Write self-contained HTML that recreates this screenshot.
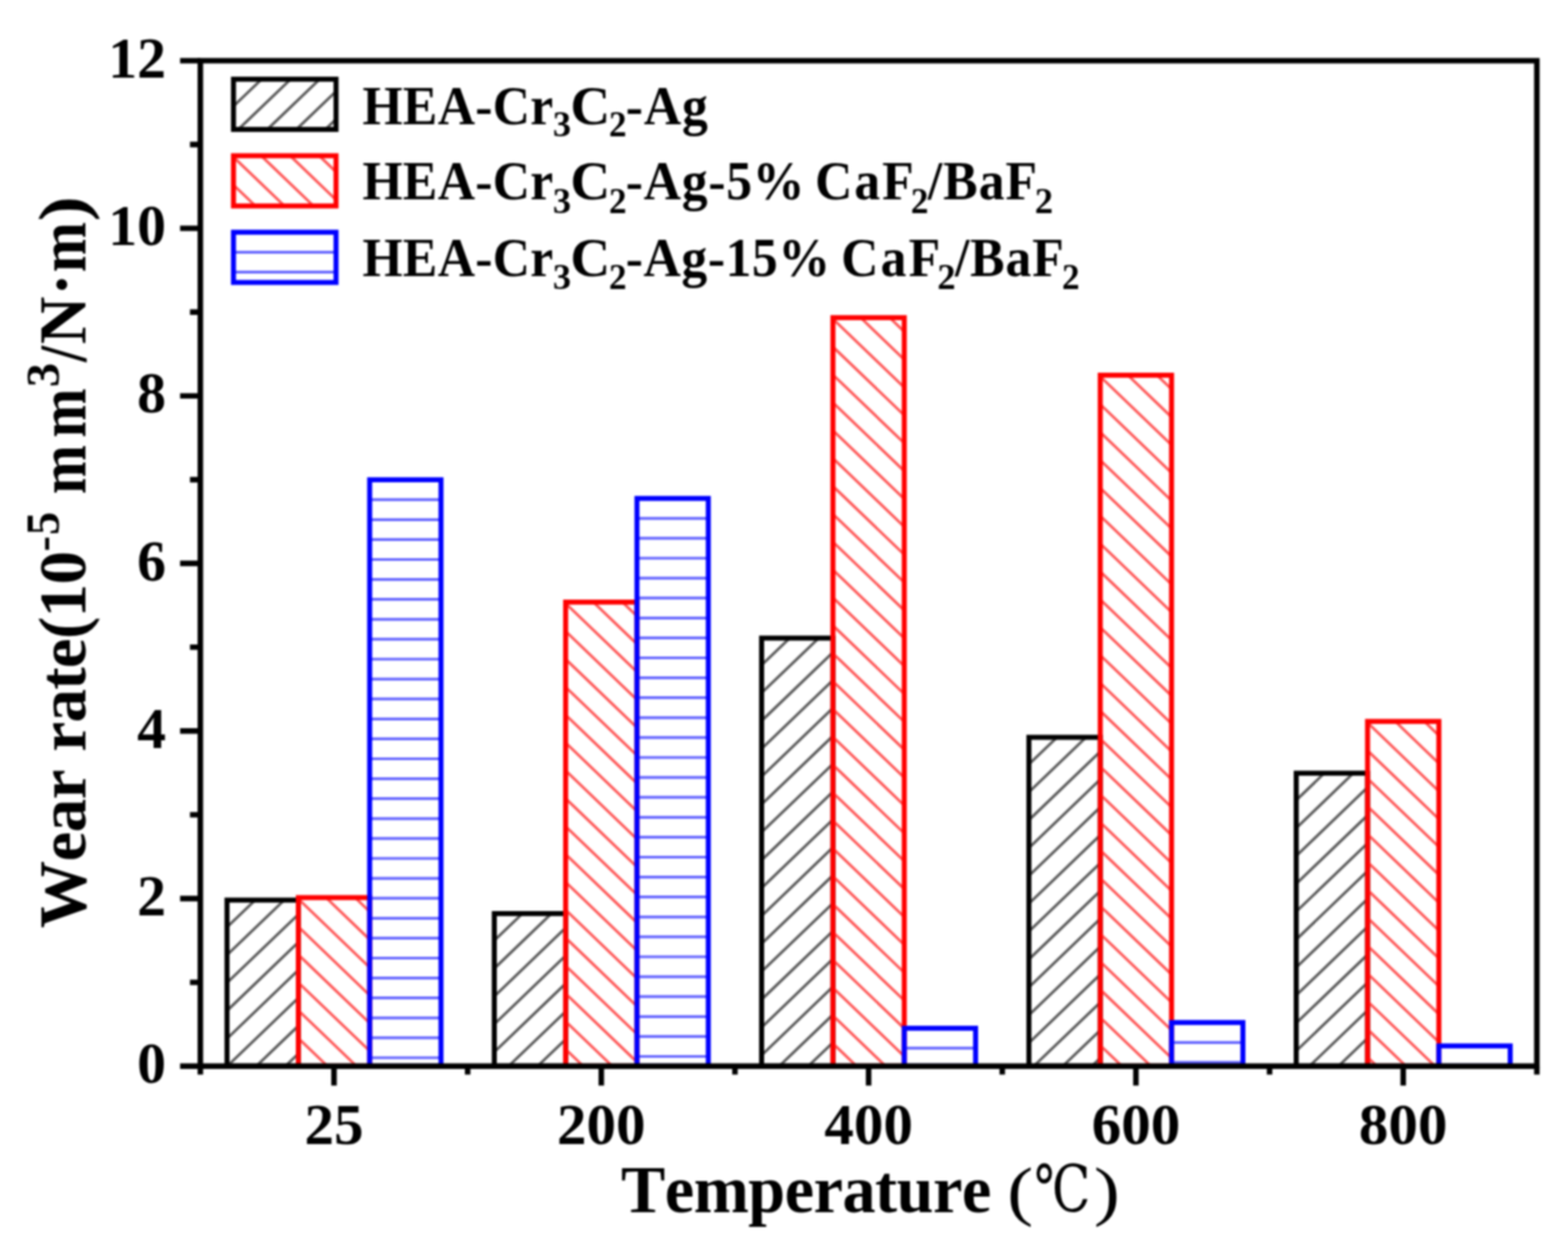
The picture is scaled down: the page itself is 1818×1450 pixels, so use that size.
<!DOCTYPE html>
<html><head><meta charset="utf-8"><title>Wear rate chart</title>
<style>
html,body{margin:0;padding:0;background:#fff;}
body{width:1818px;height:1450px;overflow:hidden;}
svg{display:block;}
#c{width:1818px;height:1450px;filter:blur(0.8px);}
text{font-family:"Liberation Serif","Times New Roman",serif;font-weight:bold;fill:#000;font-kerning:none;}
.t{font-size:67px;}
.tx{font-size:68.5px;}
.leg{font-size:60px;}
.leg .sub{font-size:43px;}
.xt{font-size:77px;}
.par{font-weight:normal;}
.deg{font-family:"DejaVu Serif","Noto Serif CJK SC",serif;font-weight:normal;font-size:75px;}
.yt{font-size:78px;}
.sup{font-size:54px;}
</style></head>
<body><div id="c"><svg width="1818" height="1450" viewBox="0 0 1818 1450">
<rect width="1818" height="1450" fill="#fff"/>
<path d="M263.21 1074.6L295.81 1043.3M263.21 1106.9L329.46 1043.3M263.21 1139.2L345.91 1059.81M263.21 1171.5L345.91 1092.11M263.21 1203.8L345.91 1124.41M263.63 1235.7L345.91 1156.71M297.27 1235.7L345.91 1189.01M330.92 1235.7L345.91 1221.31" stroke="#5c5c5c" stroke-width="3.2" fill="none"/>
<rect x="263.21" y="1043.3" width="82.7" height="192.4" fill="none" stroke="#000000" stroke-width="5.8"/>
<path d="M411.64 1040.4L428.61 1056.69M377.99 1040.4L428.61 1088.99M345.91 1041.9L428.61 1121.29M345.91 1074.2L428.61 1153.59M345.91 1106.5L428.61 1185.89M345.91 1138.8L428.61 1218.19M345.91 1171.1L413.2 1235.7M345.91 1203.4L379.56 1235.7" stroke="#ff5a5a" stroke-width="3.2" fill="none"/>
<rect x="345.91" y="1040.4" width="82.7" height="195.3" fill="none" stroke="#ff0000" stroke-width="5.8"/>
<path d="M428.61 579.2L511.31 579.2M428.61 602.3L511.31 602.3M428.61 625.4L511.31 625.4M428.61 648.5L511.31 648.5M428.61 671.6L511.31 671.6M428.61 694.7L511.31 694.7M428.61 717.8L511.31 717.8M428.61 740.9L511.31 740.9M428.61 764L511.31 764M428.61 787.1L511.31 787.1M428.61 810.2L511.31 810.2M428.61 833.3L511.31 833.3M428.61 856.4L511.31 856.4M428.61 879.5L511.31 879.5M428.61 902.6L511.31 902.6M428.61 925.7L511.31 925.7M428.61 948.8L511.31 948.8M428.61 971.9L511.31 971.9M428.61 995L511.31 995M428.61 1018.1L511.31 1018.1M428.61 1041.2L511.31 1041.2M428.61 1064.3L511.31 1064.3M428.61 1087.4L511.31 1087.4M428.61 1110.5L511.31 1110.5M428.61 1133.6L511.31 1133.6M428.61 1156.7L511.31 1156.7M428.61 1179.8L511.31 1179.8M428.61 1202.9L511.31 1202.9M428.61 1226L511.31 1226" stroke="#6262ff" stroke-width="3.2" fill="none"/>
<rect x="428.61" y="556.1" width="82.7" height="679.6" fill="none" stroke="#0000ff" stroke-width="5.8"/>
<path d="M573.13 1090.2L605.73 1058.9M573.13 1122.5L639.38 1058.9M573.13 1154.8L655.83 1075.41M573.13 1187.1L655.83 1107.71M573.13 1219.4L655.83 1140.01M589.8 1235.7L655.83 1172.31M623.44 1235.7L655.83 1204.61" stroke="#5c5c5c" stroke-width="3.2" fill="none"/>
<rect x="573.13" y="1058.9" width="82.7" height="176.8" fill="none" stroke="#000000" stroke-width="5.8"/>
<path d="M721.56 697.9L738.53 714.19M687.91 697.9L738.53 746.49M655.83 699.4L738.53 778.79M655.83 731.7L738.53 811.09M655.83 764L738.53 843.39M655.83 796.3L738.53 875.69M655.83 828.6L738.53 907.99M655.83 860.9L738.53 940.29M655.83 893.2L738.53 972.59M655.83 925.5L738.53 1004.89M655.83 957.8L738.53 1037.19M655.83 990.1L738.53 1069.49M655.83 1022.4L738.53 1101.79M655.83 1054.7L738.53 1134.09M655.83 1087L738.53 1166.39M655.83 1119.3L738.53 1198.69M655.83 1151.6L738.53 1230.99M655.83 1183.9L709.79 1235.7M655.83 1216.2L676.14 1235.7" stroke="#ff5a5a" stroke-width="3.2" fill="none"/>
<rect x="655.83" y="697.9" width="82.7" height="537.8" fill="none" stroke="#ff0000" stroke-width="5.8"/>
<path d="M738.53 600.8L821.23 600.8M738.53 623.9L821.23 623.9M738.53 647L821.23 647M738.53 670.1L821.23 670.1M738.53 693.2L821.23 693.2M738.53 716.3L821.23 716.3M738.53 739.4L821.23 739.4M738.53 762.5L821.23 762.5M738.53 785.6L821.23 785.6M738.53 808.7L821.23 808.7M738.53 831.8L821.23 831.8M738.53 854.9L821.23 854.9M738.53 878L821.23 878M738.53 901.1L821.23 901.1M738.53 924.2L821.23 924.2M738.53 947.3L821.23 947.3M738.53 970.4L821.23 970.4M738.53 993.5L821.23 993.5M738.53 1016.6L821.23 1016.6M738.53 1039.7L821.23 1039.7M738.53 1062.8L821.23 1062.8M738.53 1085.9L821.23 1085.9M738.53 1109L821.23 1109M738.53 1132.1L821.23 1132.1M738.53 1155.2L821.23 1155.2M738.53 1178.3L821.23 1178.3M738.53 1201.4L821.23 1201.4M738.53 1224.5L821.23 1224.5" stroke="#6262ff" stroke-width="3.2" fill="none"/>
<rect x="738.53" y="577.7" width="82.7" height="658" fill="none" stroke="#0000ff" stroke-width="5.8"/>
<path d="M883.05 770.9L915.65 739.6M883.05 803.2L949.3 739.6M883.05 835.5L965.75 756.11M883.05 867.8L965.75 788.41M883.05 900.1L965.75 820.71M883.05 932.4L965.75 853.01M883.05 964.7L965.75 885.31M883.05 997L965.75 917.61M883.05 1029.3L965.75 949.91M883.05 1061.6L965.75 982.21M883.05 1093.9L965.75 1014.51M883.05 1126.2L965.75 1046.81M883.05 1158.5L965.75 1079.11M883.05 1190.8L965.75 1111.41M883.05 1223.1L965.75 1143.71M903.57 1235.7L965.75 1176.01M937.22 1235.7L965.75 1208.31" stroke="#5c5c5c" stroke-width="3.2" fill="none"/>
<rect x="883.05" y="739.6" width="82.7" height="496.1" fill="none" stroke="#000000" stroke-width="5.8"/>
<path d="M1031.48 368.2L1048.45 384.49M997.83 368.2L1048.45 416.79M965.75 369.7L1048.45 449.09M965.75 402L1048.45 481.39M965.75 434.3L1048.45 513.69M965.75 466.6L1048.45 545.99M965.75 498.9L1048.45 578.29M965.75 531.2L1048.45 610.59M965.75 563.5L1048.45 642.89M965.75 595.8L1048.45 675.19M965.75 628.1L1048.45 707.49M965.75 660.4L1048.45 739.79M965.75 692.7L1048.45 772.09M965.75 725L1048.45 804.39M965.75 757.3L1048.45 836.69M965.75 789.6L1048.45 868.99M965.75 821.9L1048.45 901.29M965.75 854.2L1048.45 933.59M965.75 886.5L1048.45 965.89M965.75 918.8L1048.45 998.19M965.75 951.1L1048.45 1030.49M965.75 983.4L1048.45 1062.79M965.75 1015.7L1048.45 1095.09M965.75 1048L1048.45 1127.39M965.75 1080.3L1048.45 1159.69M965.75 1112.6L1048.45 1191.99M965.75 1144.9L1048.45 1224.29M965.75 1177.2L1026.69 1235.7M965.75 1209.5L993.04 1235.7" stroke="#ff5a5a" stroke-width="3.2" fill="none"/>
<rect x="965.75" y="368.2" width="82.7" height="867.5" fill="none" stroke="#ff0000" stroke-width="5.8"/>
<path d="M1048.45 1214.9L1131.15 1214.9" stroke="#6262ff" stroke-width="3.2" fill="none"/>
<rect x="1048.45" y="1191.8" width="82.7" height="43.9" fill="none" stroke="#0000ff" stroke-width="5.8"/>
<path d="M1192.97 885.9L1225.57 854.6M1192.97 918.2L1259.22 854.6M1192.97 950.5L1275.67 871.11M1192.97 982.8L1275.67 903.41M1192.97 1015.1L1275.67 935.71M1192.97 1047.4L1275.67 968.01M1192.97 1079.7L1275.67 1000.31M1192.97 1112L1275.67 1032.61M1192.97 1144.3L1275.67 1064.91M1192.97 1176.6L1275.67 1097.21M1192.97 1208.9L1275.67 1129.51M1198.7 1235.7L1275.67 1161.81M1232.35 1235.7L1275.67 1194.11M1265.99 1235.7L1275.67 1226.41" stroke="#5c5c5c" stroke-width="3.2" fill="none"/>
<rect x="1192.97" y="854.6" width="82.7" height="381.1" fill="none" stroke="#000000" stroke-width="5.8"/>
<path d="M1341.4 434.9L1358.37 451.19M1307.75 434.9L1358.37 483.49M1275.67 436.4L1358.37 515.79M1275.67 468.7L1358.37 548.09M1275.67 501L1358.37 580.39M1275.67 533.3L1358.37 612.69M1275.67 565.6L1358.37 644.99M1275.67 597.9L1358.37 677.29M1275.67 630.2L1358.37 709.59M1275.67 662.5L1358.37 741.89M1275.67 694.8L1358.37 774.19M1275.67 727.1L1358.37 806.49M1275.67 759.4L1358.37 838.79M1275.67 791.7L1358.37 871.09M1275.67 824L1358.37 903.39M1275.67 856.3L1358.37 935.69M1275.67 888.6L1358.37 967.99M1275.67 920.9L1358.37 1000.29M1275.67 953.2L1358.37 1032.59M1275.67 985.5L1358.37 1064.89M1275.67 1017.8L1358.37 1097.19M1275.67 1050.1L1358.37 1129.49M1275.67 1082.4L1358.37 1161.79M1275.67 1114.7L1358.37 1194.09M1275.67 1147L1358.37 1226.39M1275.67 1179.3L1334.42 1235.7M1275.67 1211.6L1300.77 1235.7" stroke="#ff5a5a" stroke-width="3.2" fill="none"/>
<rect x="1275.67" y="434.9" width="82.7" height="800.8" fill="none" stroke="#ff0000" stroke-width="5.8"/>
<path d="M1358.37 1208.3L1441.07 1208.3M1358.37 1231.4L1441.07 1231.4" stroke="#6262ff" stroke-width="3.2" fill="none"/>
<rect x="1358.37" y="1185.2" width="82.7" height="50.5" fill="none" stroke="#0000ff" stroke-width="5.8"/>
<path d="M1502.89 927.5L1535.49 896.2M1502.89 959.8L1569.14 896.2M1502.89 992.1L1585.59 912.71M1502.89 1024.4L1585.59 945.01M1502.89 1056.7L1585.59 977.31M1502.89 1089L1585.59 1009.61M1502.89 1121.3L1585.59 1041.91M1502.89 1153.6L1585.59 1074.21M1502.89 1185.9L1585.59 1106.51M1502.89 1218.2L1585.59 1138.81M1518.31 1235.7L1585.59 1171.11M1551.95 1235.7L1585.59 1203.41" stroke="#5c5c5c" stroke-width="3.2" fill="none"/>
<rect x="1502.89" y="896.2" width="82.7" height="339.5" fill="none" stroke="#000000" stroke-width="5.8"/>
<path d="M1651.32 836.2L1668.29 852.49M1617.67 836.2L1668.29 884.79M1585.59 837.7L1668.29 917.09M1585.59 870L1668.29 949.39M1585.59 902.3L1668.29 981.69M1585.59 934.6L1668.29 1013.99M1585.59 966.9L1668.29 1046.29M1585.59 999.2L1668.29 1078.59M1585.59 1031.5L1668.29 1110.89M1585.59 1063.8L1668.29 1143.19M1585.59 1096.1L1668.29 1175.49M1585.59 1128.4L1668.29 1207.79M1585.59 1160.7L1663.72 1235.7M1585.59 1193L1630.07 1235.7M1585.59 1225.3L1596.42 1235.7" stroke="#ff5a5a" stroke-width="3.2" fill="none"/>
<rect x="1585.59" y="836.2" width="82.7" height="399.5" fill="none" stroke="#ff0000" stroke-width="5.8"/>
<rect x="1668.29" y="1212.3" width="82.7" height="23.4" fill="none" stroke="#0000ff" stroke-width="5.8"/>
<path d="M270.7 123.1L303.3 91.8M276.32 150L336.95 91.8M309.97 150L370.6 91.8M343.62 150L389.6 105.86M377.26 150L389.6 138.16" stroke="#5c5c5c" stroke-width="3.2" fill="none"/>
<rect x="270.7" y="91.8" width="118.9" height="58.2" fill="none" stroke="#000000" stroke-width="5.8"/>
<path d="M370.07 180.5L389.6 199.24M336.43 180.5L389.6 231.54M302.78 180.5L363.41 238.7M270.7 182L329.76 238.7M270.7 214.3L296.12 238.7" stroke="#ff5a5a" stroke-width="3.2" fill="none"/>
<rect x="270.7" y="180.5" width="118.9" height="58.2" fill="none" stroke="#ff0000" stroke-width="5.8"/>
<path d="M270.7 292.3L389.6 292.3M270.7 315.4L389.6 315.4" stroke="#6262ff" stroke-width="3.2" fill="none"/>
<rect x="270.7" y="269.2" width="118.9" height="58.2" fill="none" stroke="#0000ff" stroke-width="5.8"/>
<path d="M232.3 70.4H1781.9V1235.7H232.3Z" fill="none" stroke="#000" stroke-width="6.4" stroke-linejoin="miter"/>
<path d="M208.8 1235.7H232.3M220.3 1138.59H232.3M208.8 1041.48H232.3M220.3 944.38H232.3M208.8 847.27H232.3M220.3 750.16H232.3M208.8 653.05H232.3M220.3 555.94H232.3M208.8 458.83H232.3M220.3 361.73H232.3M208.8 264.62H232.3M220.3 167.51H232.3M208.8 70.4H232.3M387.26 1235.7V1258.2M697.18 1235.7V1258.2M1007.1 1235.7V1258.2M1317.02 1235.7V1258.2M1626.94 1235.7V1258.2M232.3 1235.7V1245.5M542.22 1235.7V1245.5M852.14 1235.7V1245.5M1162.06 1235.7V1245.5M1471.98 1235.7V1245.5M1781.9 1235.7V1245.5" stroke="#000" stroke-width="6.4" fill="none"/>
<text x="192.5" y="1255.2" text-anchor="end" class="t">0</text>
<text x="192.5" y="1060.98" text-anchor="end" class="t">2</text>
<text x="192.5" y="866.77" text-anchor="end" class="t">4</text>
<text x="192.5" y="672.55" text-anchor="end" class="t">6</text>
<text x="192.5" y="478.33" text-anchor="end" class="t">8</text>
<text x="192.5" y="284.12" text-anchor="end" class="t">10</text>
<text x="192.5" y="89.9" text-anchor="end" class="t">12</text>
<text x="387.26" y="1325.6" text-anchor="middle" class="t tx">25</text>
<text x="697.18" y="1325.6" text-anchor="middle" class="t tx">200</text>
<text x="1007.1" y="1325.6" text-anchor="middle" class="t tx">400</text>
<text x="1317.02" y="1325.6" text-anchor="middle" class="t tx">600</text>
<text x="1626.94" y="1325.6" text-anchor="middle" class="t tx">800</text>
<text transform="translate(420.2 143.5) scale(1.0000 1.0650)" style="font-size:60px;font-weight:bold;font-family:'Liberation Serif';letter-spacing:0.260px">HEA-Cr</text>
<text transform="translate(641.03 157.6) scale(0.9833 1.0000)" style="font-size:43px;font-weight:bold;font-family:'Liberation Serif'">3</text>
<text transform="translate(661.29 143.5) scale(1.0694 1.0650)" style="font-size:60px;font-weight:bold;font-family:'Liberation Serif'">C</text>
<text transform="translate(705.89 157.6) scale(0.9556 1.0000)" style="font-size:43px;font-weight:bold;font-family:'Liberation Serif'">2</text>
<text transform="translate(725.5 143.5) scale(1.0000 1.0650)" style="font-size:60px;font-weight:bold;font-family:'Liberation Serif';letter-spacing:0.950px">-Ag</text>
<text transform="translate(420.2 231) scale(1.0000 1.0650)" style="font-size:60px;font-weight:bold;font-family:'Liberation Serif';letter-spacing:0.260px">HEA-Cr</text>
<text transform="translate(641.03 246.8) scale(0.9833 1.0000)" style="font-size:43px;font-weight:bold;font-family:'Liberation Serif'">3</text>
<text transform="translate(661.29 231) scale(1.0694 1.0650)" style="font-size:60px;font-weight:bold;font-family:'Liberation Serif'">C</text>
<text transform="translate(705.89 246.8) scale(0.9556 1.0000)" style="font-size:43px;font-weight:bold;font-family:'Liberation Serif'">2</text>
<text transform="translate(725.5 231) scale(1.0000 1.0650)" style="font-size:60px;font-weight:bold;font-family:'Liberation Serif';letter-spacing:0.800px">-Ag-5%</text>
<text transform="translate(945 231) scale(1.0000 1.0650)" style="font-size:60px;font-weight:bold;font-family:'Liberation Serif';letter-spacing:2.250px">CaF</text>
<text transform="translate(1055.99 246.8) scale(0.9556 1.0000)" style="font-size:43px;font-weight:bold;font-family:'Liberation Serif'">2</text>
<text transform="translate(1075.8 231) scale(1.0000 1.0650)" style="font-size:60px;font-weight:bold;font-family:'Liberation Serif';letter-spacing:1.133px">/BaF</text>
<text transform="translate(1199.72 246.8) scale(0.9889 1.0000)" style="font-size:43px;font-weight:bold;font-family:'Liberation Serif'">2</text>
<text transform="translate(420.2 319.8) scale(1.0000 1.0650)" style="font-size:60px;font-weight:bold;font-family:'Liberation Serif';letter-spacing:0.260px">HEA-Cr</text>
<text transform="translate(641.03 335.2) scale(0.9833 1.0000)" style="font-size:43px;font-weight:bold;font-family:'Liberation Serif'">3</text>
<text transform="translate(661.29 319.8) scale(1.0694 1.0650)" style="font-size:60px;font-weight:bold;font-family:'Liberation Serif'">C</text>
<text transform="translate(705.89 335.2) scale(0.9556 1.0000)" style="font-size:43px;font-weight:bold;font-family:'Liberation Serif'">2</text>
<text transform="translate(725.5 319.8) scale(1.0000 1.0650)" style="font-size:60px;font-weight:bold;font-family:'Liberation Serif';letter-spacing:0.617px">-Ag-15%</text>
<text transform="translate(975.3 319.8) scale(1.0000 1.0650)" style="font-size:60px;font-weight:bold;font-family:'Liberation Serif';letter-spacing:2.450px">CaF</text>
<text transform="translate(1086.72 335.2) scale(0.9889 1.0000)" style="font-size:43px;font-weight:bold;font-family:'Liberation Serif'">2</text>
<text transform="translate(1107.3 319.8) scale(1.0000 1.0650)" style="font-size:60px;font-weight:bold;font-family:'Liberation Serif';letter-spacing:0.900px">/BaF</text>
<text transform="translate(1231.19 335.2) scale(0.9556 1.0000)" style="font-size:43px;font-weight:bold;font-family:'Liberation Serif'">2</text>
<text transform="translate(720 1404.7) scale(1.0000 1.0200)" style="font-size:77px;font-weight:bold;font-family:'Liberation Serif';letter-spacing:-0.680px">Temperature</text>
<text transform="translate(1167.67 1406) scale(1.1750 1.0000)" style="font-size:77px;font-weight:normal;font-family:'Liberation Serif'">(</text>
<text transform="translate(1199.17 1403.7) scale(0.7776 1.0000)" style="font-size:75px;font-weight:normal;font-family:'DejaVu Serif'">℃</text>
<text transform="translate(1268.15 1406) scale(1.1750 1.0000)" style="font-size:77px;font-weight:normal;font-family:'Liberation Serif'">)</text>
<text transform="translate(98.5 1075.7) rotate(-90) scale(1.0000 1.0100)" style="font-size:78px;font-weight:bold;font-family:'Liberation Serif';letter-spacing:-0.800px">Wear</text>
<text transform="translate(98.5 871.3) rotate(-90) scale(1.0000 1.0100)" style="font-size:78px;font-weight:bold;font-family:'Liberation Serif';letter-spacing:-0.900px">rate(10</text>
<text transform="translate(67.5 639.3) rotate(-90)" style="font-size:54px;font-weight:bold;font-family:'Liberation Serif';letter-spacing:1.000px">-5</text>
<text transform="translate(98.5 572.75) rotate(-90) scale(0.8774 1.0100)" style="font-size:78px;font-weight:bold;font-family:'Liberation Serif'">m</text>
<text transform="translate(98.5 507.26) rotate(-90) scale(0.8790 1.0100)" style="font-size:78px;font-weight:bold;font-family:'Liberation Serif'">m</text>
<text transform="translate(67.5 448.69) rotate(-90) scale(1.0435 1.0000)" style="font-size:54px;font-weight:bold;font-family:'Liberation Serif'">3</text>
<text transform="translate(98.5 419.5) rotate(-90) scale(0.8591 1.0100)" style="font-size:78px;font-weight:bold;font-family:'Liberation Serif'">/</text>
<text transform="translate(98.5 398.98) rotate(-90) scale(0.9815 1.0100)" style="font-size:78px;font-weight:bold;font-family:'Liberation Serif'">N</text>
<text transform="translate(98.1 342.8) rotate(-90)" style="font-size:78px;font-weight:bold;font-family:'Liberation Serif'">·</text>
<text transform="translate(98.5 315.7) rotate(-90) scale(0.9000 1.0100)" style="font-size:78px;font-weight:bold;font-family:'Liberation Serif'">m</text>
<text transform="translate(98.5 256.44) rotate(-90) scale(1.1150 1.0100)" style="font-size:78px;font-weight:bold;font-family:'Liberation Serif'">)</text>
</svg></div></body></html>
